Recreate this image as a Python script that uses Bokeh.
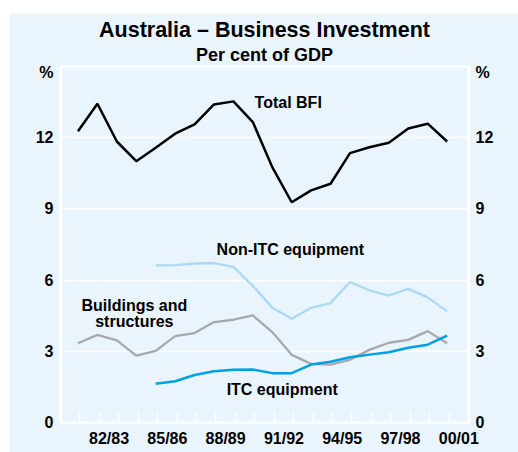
from bokeh.plotting import figure
from bokeh.models import Range1d, LinearAxis, FixedTicker, Label, Title, Spacer
from bokeh.layouts import row, column
from bokeh.embed import file_html
from bokeh.resources import INLINE

# ---- data (per cent of GDP), financial years ending June ----
years = [1981, 1982, 1983, 1984, 1985, 1986, 1987, 1988, 1989, 1990,
         1991, 1992, 1993, 1994, 1995, 1996, 1997, 1998, 1999, 2000]
total_bfi = [12.27, 13.43, 11.84, 11.01, 11.58, 12.17, 12.56, 13.40, 13.53, 12.66,
             10.76, 9.28, 9.78, 10.06, 11.35, 11.60, 11.79, 12.39, 12.59, 11.84]
buildings = [3.34, 3.69, 3.46, 2.82, 3.02, 3.64, 3.77, 4.23, 4.33, 4.51,
             3.81, 2.85, 2.47, 2.44, 2.64, 3.06, 3.36, 3.48, 3.85, 3.34]
equip_years = [1985, 1986, 1987, 1988, 1989, 1990, 1991, 1992,
               1993, 1994, 1995, 1996, 1997, 1998, 1999, 2000]
non_itc = [6.62, 6.63, 6.70, 6.72, 6.56, 5.75, 4.84, 4.37,
           4.83, 5.03, 5.92, 5.57, 5.35, 5.63, 5.27, 4.68]
itc = [1.63, 1.74, 2.00, 2.16, 2.22, 2.23, 2.08, 2.08,
       2.44, 2.56, 2.75, 2.86, 2.96, 3.15, 3.28, 3.66]

x_label_text = ["82/83", "85/86", "88/89", "91/92", "94/95", "97/98", "00/01"]
x_label_start = [1982, 1985, 1988, 1991, 1994, 1997, 2000]
y_ticks = [0, 3, 6, 9, 12]

PANEL = "#EAF4FC"
FONT = "Liberation Sans"

p = figure(width=509, height=439, output_backend="svg", toolbar_location=None,
           x_range=Range1d(1980.1, 2001.1), y_range=Range1d(0, 15),
           min_border_left=51, min_border_right=50, min_border_top=53, min_border_bottom=30,
           background_fill_color=PANEL, border_fill_color=PANEL)
p.outline_line_color = "white"
p.outline_line_width = 2

# titles
p.add_layout(Title(text="Per cent of GDP", align="center", text_font=FONT,
                   text_font_style="bold", text_font_size="18px", text_color="black",
                   standoff=4), "above")
p.add_layout(Title(text="Australia \u2013 Business Investment", align="center", text_font=FONT,
                   text_font_style="bold", text_font_size="21.5px", text_color="black",
                   standoff=-3), "above")

# lines
p.line(years, buildings, line_color="#A7A9AC", line_width=2.3)
p.line(equip_years, non_itc, line_color="#A9D9F6", line_width=2.3)
p.line(equip_years, itc, line_color="#00A0E4", line_width=2.5)
p.line(years, total_bfi, line_color="black", line_width=2.5)

# x axis: labels centred between year ticks
tick_pos = [round(y + 0.1, 2) for y in years]
lab_pos = [round(y + 0.6, 2) for y in x_label_start]
xa = p.xaxis[0]
xa.ticker = FixedTicker(ticks=lab_pos, minor_ticks=tick_pos)
xa.major_label_overrides = {pos: t for pos, t in zip(lab_pos, x_label_text)}
xa.major_tick_line_color = None
xa.major_tick_in = 0
xa.major_tick_out = 0
xa.minor_tick_in = 10
xa.minor_tick_out = 0
xa.minor_tick_line_color = "white"
xa.minor_tick_line_width = 1.5
xa.axis_line_color = "white"
xa.axis_line_width = 2
xa.major_label_standoff = 7
xa.major_label_text_font = FONT
xa.major_label_text_font_style = "bold"
xa.major_label_text_font_size = "16px"
xa.major_label_text_color = "black"
p.xgrid.visible = False

# y axes
pct_pos = 14.75
def style_y(ax):
    ax.ticker = FixedTicker(ticks=y_ticks + [pct_pos])
    ax.major_label_overrides = {pct_pos: "%"}
    ax.major_tick_line_color = None
    ax.major_tick_in = 0
    ax.major_tick_out = 0
    ax.minor_tick_line_color = None
    ax.axis_line_color = "white"
    ax.axis_line_width = 2
    ax.major_label_standoff = 7
    ax.major_label_text_font = FONT
    ax.major_label_text_font_style = "bold"
    ax.major_label_text_font_size = "16px"
    ax.major_label_text_color = "black"

style_y(p.yaxis[0])
ra = LinearAxis()
style_y(ra)
p.add_layout(ra, "right")
p.ygrid.ticker = FixedTicker(ticks=[3, 6, 9, 12])
p.ygrid.grid_line_color = "white"
p.ygrid.grid_line_width = 1.5

# series labels
def series_label(x, y, t):
    p.add_layout(Label(x=x, y=y, text=t, text_align="center", text_baseline="middle",
                       text_font=FONT, text_font_style="bold", text_font_size="16px",
                       text_color="black"))

series_label(1991.82, 13.49, "Total BFI")
series_label(1991.93, 7.29, "Non-ITC equipment")
series_label(1983.90, 4.93, "Buildings and")
series_label(1983.90, 4.26, "structures")
series_label(1991.51, 1.39, "ITC equipment")

layout = row(Spacer(width=9, height=10), column(Spacer(width=10, height=13), p))
open("out.html", "w").write(file_html(layout, INLINE))
